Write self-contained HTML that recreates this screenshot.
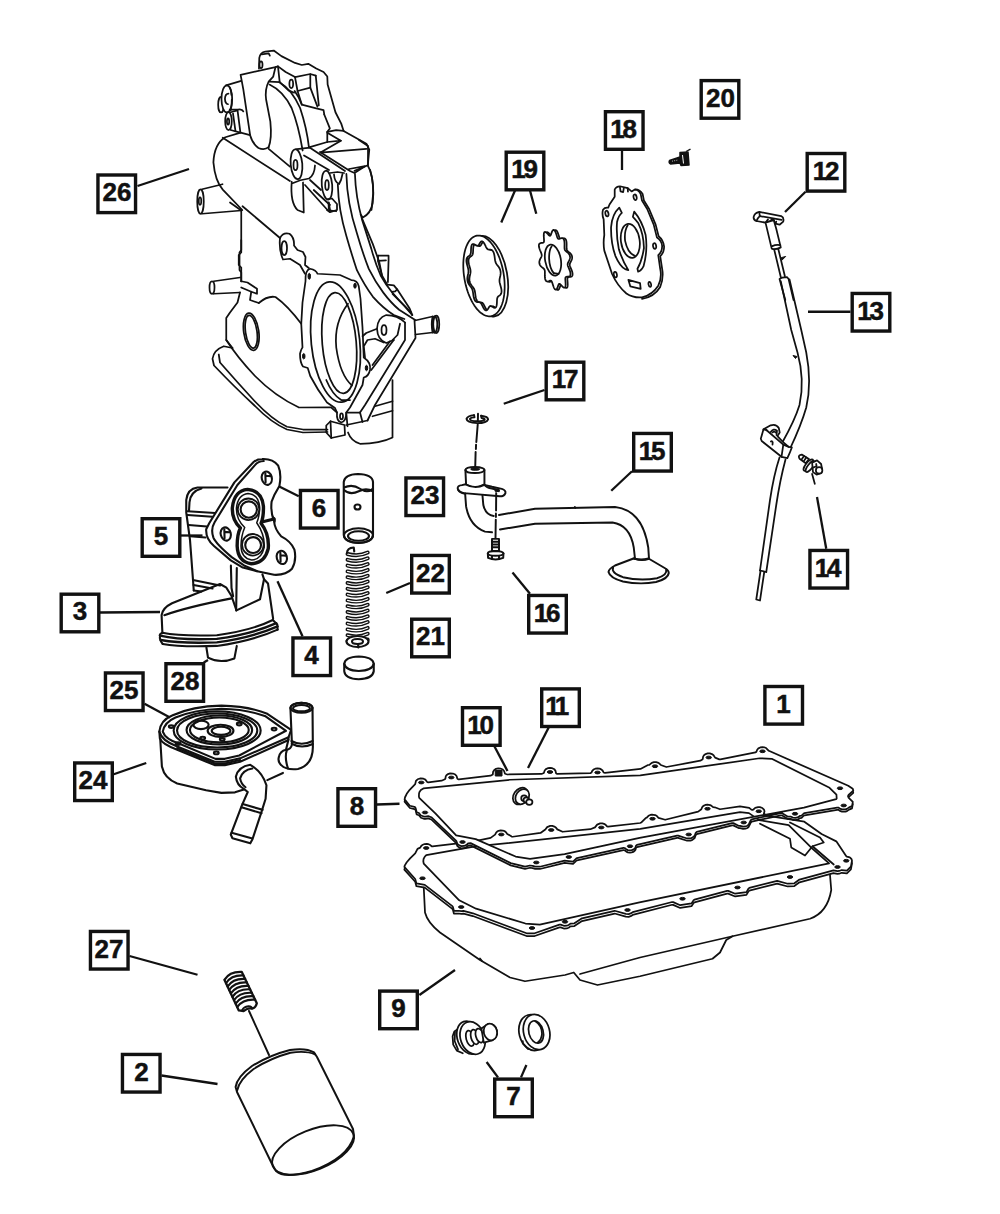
<!DOCTYPE html>
<html><head><meta charset="utf-8"><title>Engine Oiling Parts Diagram</title>
<style>
html,body{margin:0;padding:0;background:#fff;}
body{width:1000px;height:1214px;overflow:hidden;}
svg{display:block;}
.p{fill:none;stroke:#111;stroke-width:1.75;stroke-linecap:round;stroke-linejoin:round;vector-effect:non-scaling-stroke;}
.w{fill:#fff;stroke:#111;stroke-width:1.75;stroke-linecap:round;stroke-linejoin:round;vector-effect:non-scaling-stroke;}
#adapter-body .p,#adapter-flange .p,#adapter-flange .w,#adapter-dome .p,#cooler .p,#cooler .w,#valve .p,#valve .w{stroke-width:2.1;}
#pickup-left .p,#pickup-left .w,#pickup-tube .p,#strainer .p,#filter .p,#filter .w{stroke-width:1.95;}
.k{fill:#111;stroke:#111;stroke-width:1;vector-effect:non-scaling-stroke;}
.ld{fill:none;stroke:#111;stroke-width:2.3;stroke-linecap:butt;}
.bx{fill:#fff;stroke:#111;stroke-width:3.4;}
.t{font-family:"Liberation Sans",sans-serif;font-weight:bold;font-size:26px;fill:#111;stroke:#111;stroke-width:0.5;text-anchor:middle;}
</style></head><body>
<svg width="1000" height="1214" viewBox="0 0 1000 1214">
<rect x="0" y="0" width="1000" height="1214" fill="#fff"/>
<!-- 10_cover_upper.svg -->
<g id="cover-upper" transform="translate(210,40) scale(0.17)">
<!-- top lug + back edge -->
<path class="p" d="M288,168 L290,105 Q296,72 325,68 L375,62 L420,95 L500,135 L540,147 L578,140 L625,168 L668,188 L690,215 L692,262 L738,425 L772,492 L786,535 L920,610 L937,645 L928,738"/>
<ellipse class="p" cx="300" cy="145" rx="9" ry="20"/>
<path class="p" d="M304,84 L345,78 L352,92"/>
<!-- front plate -->
<path class="p" d="M400,155 L385,160 L180,205 L196,290 L236,560 Q250,610 285,635 Q320,650 345,630"/>
<path class="p" d="M385,160 L372,215 L345,245 Q322,290 330,350 L355,480 Q365,580 345,630"/>
<path class="p" d="M345,640 L470,745"/>
<path class="p" d="M400,157 L410,248 L350,245"/>
<path class="p" d="M350,262 Q430,300 480,400 Q520,500 545,650"/>
<path class="p" d="M410,250 Q480,290 530,400 Q570,520 582,632"/>
<!-- lug 2 -->
<path class="p" d="M400,155 L445,188 L500,218"/>
<ellipse class="p" cx="478" cy="258" rx="11" ry="25"/>
<path class="p" d="M498,300 L520,335 L540,380"/>
<path class="p" d="M410,248 L462,296 L495,310"/>
<!-- window -->
<path class="p" d="M500,218 L590,200 L622,210"/>
<path class="p" d="M500,218 L515,300 L590,280 L590,202"/>
<path class="p" d="M515,300 L540,380 L625,402 L668,412 L672,438"/>
<path class="p" d="M590,280 L632,392"/>
<path class="p" d="M622,210 L640,385"/>
<path class="p" d="M672,438 L705,520 L690,540 L690,600"/>
<path class="p" d="M690,540 L742,530 L786,535"/>
<path class="p" d="M690,545 L770,592 L690,600 L582,632"/>
<path class="p" d="M770,592 L650,662 L920,640"/>
<!-- big boss -->
<path class="p" d="M236,560 L180,545 L90,572 Q25,610 20,720 Q30,830 75,880 L190,1000"/>
<path class="p" d="M75,575 L470,830"/>
<!-- right bulge -->
<path class="p" d="M928,738 Q960,790 960,900 L950,1000"/>
<path class="p" d="M850,770 L925,738"/>
</g>

<g id="cover-bosses" transform="translate(205,75) scale(0.08237)">
<ellipse class="p" cx="195" cy="360" rx="35" ry="95"/>
<ellipse class="w" cx="265" cy="290" rx="65" ry="165"/>
<path class="p" d="M285,225 Q245,225 242,290 Q245,350 280,355"/>
<path class="p" d="M255,125 L440,72"/>
<path class="p" d="M300,420 L400,420 Q450,410 465,442"/>
<path class="p" d="M300,150 Q325,200 320,240"/>
<path class="p" d="M325,300 Q328,380 310,430"/>
<path class="w" d="M300,455 L395,430 L430,700 L310,668 Z"/>
<ellipse class="w" cx="285" cy="560" rx="40" ry="110"/>
<ellipse class="p" cx="280" cy="565" rx="14" ry="38"/>
<path class="p" d="M340,470 L370,680"/>
</g>

<g id="cover-lugs" transform="translate(280,140) scale(0.1)">
<path class="p" d="M170,92 L300,76"/>
<ellipse class="p" cx="165" cy="242" rx="58" ry="150" transform="rotate(-5 165 242)"/>
<ellipse class="p" cx="155" cy="250" rx="20" ry="52"/>
<path class="p" d="M300,78 L650,310"/>
<path class="p" d="M240,155 L490,300"/>
<path class="p" d="M350,255 Q345,350 290,385 Q200,395 125,432"/>
<path class="p" d="M400,120 L700,310 L745,330 L850,262 L690,290"/>
<path class="p" d="M300,400 L410,500"/>
<path class="p" d="M480,590 L520,585 L570,640 L570,700 L500,722 L470,700"/>
<path class="p" d="M485,625 L488,690"/>
<ellipse class="p" cx="470" cy="452" rx="52" ry="145" transform="rotate(-5 470 452)"/>
<ellipse class="p" cx="470" cy="450" rx="18" ry="50"/>
<path class="p" d="M500,330 L575,320 L640,330"/>
<path class="p" d="M540,345 Q545,420 590,440 L610,400 L625,340"/>
<path class="p" d="M790,0 L880,60 L880,250"/>
</g>

<!-- 11_cover_mid.svg -->
<g id="cover-mid" transform="translate(180,30) scale(0.25)">
<!-- left stub upper -->
<path class="p" d="M88,637 L170,617"/>
<path class="p" d="M88,735 L245,722"/>
<ellipse class="p" cx="82" cy="686" rx="13" ry="49"/>
<ellipse class="p" cx="80" cy="684" rx="5" ry="15"/>
<!-- big boss lower -->
<path class="p" d="M200,690 L245,722"/>
<!-- left edge -->
<path class="p" d="M245,722 L245,880 L238,890 L238,960 L245,970 L245,1005"/>
<!-- diagonal to lug C -->
<path class="p" d="M250,705 L400,832"/>
<!-- lug C -->
<ellipse class="p" cx="417" cy="872" rx="11" ry="28"/>
<path class="p" d="M400,832 Q412,808 438,815 Q458,830 456,862 L470,880 L492,888 L502,908 L500,940 L515,952"/>
<path class="p" d="M400,832 Q395,880 412,918 L440,915 L480,940 L500,975"/>
<!-- notch under lug A -->
<path class="p" d="M447,607 Q440,690 470,720 L495,730 L492,610"/>
<path class="p" d="M500,620 L590,720 L625,725"/>
<path class="p" d="M535,640 L600,700"/>
<path class="p" d="M595,690 L600,720"/>
</g>
<g id="cover-low" transform="translate(200,240) scale(0.25)">
<!-- second stub -->
<path class="p" d="M55,165 L160,150"/>
<path class="p" d="M55,215 L160,210"/>
<ellipse class="p" cx="48" cy="190" rx="10" ry="25"/>
<!-- left edge -->
<path class="p" d="M165,0 L165,50 L155,60 L155,100 L165,110 L165,165"/>
<path class="p" d="M165,165 L190,170 L228,195 L228,215 L205,207 L200,240 L235,252"/>
<path class="p" d="M205,207 L165,190"/>
<path class="p" d="M235,252 Q270,222 302,228 Q350,262 405,335"/>
<path class="p" d="M160,210 L150,250 L120,290 L105,312 L105,400 L130,432"/>
<!-- oval hole -->
<ellipse class="p" cx="205" cy="367" rx="30" ry="75" transform="rotate(-8 205 367)"/>
<ellipse class="p" cx="205" cy="367" rx="23" ry="66" transform="rotate(-8 205 367)"/>
<!-- skirt -->
<path class="p" d="M130,432 L95,425 Q55,440 50,475 L56,502 Q140,590 220,664 Q284,730 348,758 L412,770 L510,768"/>
<path class="p" d="M75,458 L80,490 Q150,570 220,646 Q290,720 348,747 L412,758 L510,758"/>
<path class="p" d="M105,400 Q150,470 220,544 Q300,625 396,670 L524,669 L548,690"/>
<!-- pump ring outer -->
<path class="p" d="M405,335 L410,250 L422,165 Q420,120 440,115 Q465,120 470,135 L560,140 L605,160 Q630,160 635,185 L642,235 L650,350 L655,470 Q685,490 680,520 Q675,545 655,550 L650,580 L600,670 L585,690 Q585,725 565,730 Q545,725 548,690 L540,672 L508,650 Q470,600 441,544 L431,512 L412,506 Q400,490 400,455 Q405,435 410,430 Z"/>
<ellipse class="k" cx="437" cy="145" rx="5" ry="12"/>
<ellipse class="k" cx="620" cy="183" rx="5" ry="10"/>
<ellipse class="k" cx="415" cy="465" rx="5" ry="11"/>
<ellipse class="k" cx="666" cy="512" rx="5" ry="11"/>
<ellipse class="p" cx="566" cy="705" rx="6" ry="12"/>
<ellipse class="p" cx="542" cy="408" rx="97" ry="242" transform="rotate(-6 542 408)"/>
<ellipse class="p" cx="557" cy="412" rx="68" ry="202" transform="rotate(-5 557 412)"/>
<path class="p" d="M592,255 Q535,330 545,430 Q560,540 608,582"/>
<path class="p" d="M505,560 Q530,620 565,640 L600,640"/>
<!-- strap lower and right lug -->
<path class="p" d="M858,322 L862,392 L700,660 L670,722"/>
<path class="p" d="M820,330 L820,400 L660,660 L640,690"/>
<path class="p" d="M640,690 L590,690"/>
<path class="p" d="M670,722 L585,740"/>
<path class="p" d="M585,690 L590,745"/>
<path class="p" d="M640,690 L650,728"/>
<ellipse class="p" cx="736" cy="360" rx="10" ry="20"/>
<path class="p" d="M820,330 Q790,300 745,300 Q710,310 708,355 Q710,400 745,412 L775,400"/>
<path class="p" d="M708,355 L665,372 L650,385"/>
<path class="p" d="M735,410 L700,395 L670,400 L655,425 L660,470"/>
<path class="p" d="M775,400 L700,500 L685,520"/>
<path class="p" d="M760,405 L690,500"/>
<path class="p" d="M800,335 L790,380 L770,400"/>
<!-- right stub -->
<path class="p" d="M860,322 L930,306"/>
<path class="p" d="M862,378 L930,370"/>
<ellipse class="p" cx="945" cy="337" rx="12" ry="35"/>
<ellipse class="p" cx="938" cy="338" rx="11" ry="33"/>
<path class="p" d="M930,306 L930,370"/>
<!-- bottom cylinder -->
<path class="p" d="M770,560 L770,790 Q720,815 640,815 Q605,805 592,770"/>
<path class="p" d="M700,665 L770,645"/>
<path class="p" d="M690,705 L770,683"/>
<!-- small block -->
<path class="p" d="M505,742 L522,725 L578,740 L580,780 L525,792 L505,770 Z"/>
<path class="p" d="M522,725 L525,792"/>
</g>

<g id="cover-strap" transform="translate(320,170) scale(0.13187)">
<path class="p" d="M135,110 Q140,300 200,500 Q240,640 280,760 Q340,880 400,960 Q480,1050 560,1100 L640,1130"/>
<path class="p" d="M200,30 Q205,250 280,480 Q320,620 370,750 Q420,850 480,930 Q540,1010 600,1060 L722,1138"/>
<path class="p" d="M265,30 Q270,200 320,380 L390,600 Q420,710 460,800 Q500,870 540,920 Q590,980 640,1030 L700,1100"/>
<path class="p" d="M320,370 L400,560 L450,700 L470,800 L510,870"/>
<path class="p" d="M380,0 Q415,120 400,250 Q385,330 325,360 L308,338"/>
<path class="p" d="M440,650 L520,650 L520,682 L515,850"/>
<path class="p" d="M440,650 L440,690 L470,800"/>
<path class="p" d="M440,690 L500,685"/>
<path class="p" d="M510,870 L560,875 L585,905 L570,920 L545,925"/>
<path class="p" d="M585,905 L680,1050 L700,1100"/>
<path class="p" d="M550,940 L690,1080"/>
</g>

<!-- 20_gears.svg -->
<g id="gears" transform="translate(455,215) scale(0.14)">
<ellipse class="p" cx="232" cy="437" rx="141" ry="292" transform="rotate(-10 232 437)"/>
<path class="p" d="M341.0,416.0 L340.7,422.6 L339.9,429.2 L338.8,435.5 L337.5,441.6 L336.2,447.5 L334.9,453.2 L333.8,458.7 L333.1,464.2 L332.8,469.7 L332.9,475.3 L333.6,481.0 L334.7,487.0 L336.3,493.4 L338.1,500.0 L340.1,506.9 L342.1,514.0 L344.0,521.3 L345.6,528.6 L346.7,535.7 L347.4,542.6 L347.4,549.0 L346.8,554.9 L345.6,560.2 L343.8,564.8 L341.4,568.8 L338.7,572.1 L335.6,575.0 L332.5,577.4 L329.3,579.6 L326.3,581.7 L323.5,584.1 L321.1,586.7 L319.1,589.9 L317.5,593.8 L316.4,598.3 L315.6,603.6 L315.1,609.5 L314.8,616.0 L314.6,622.8 L314.3,629.8 L313.8,636.8 L313.1,643.4 L312.0,649.4 L310.5,654.6 L308.6,658.9 L306.1,662.0 L303.3,664.0 L300.1,664.8 L296.6,664.6 L292.9,663.5 L289.0,661.7 L285.2,659.5 L281.5,657.2 L277.9,655.0 L274.5,653.2 L271.3,652.1 L268.3,651.8 L265.6,652.4 L263.1,654.0 L260.7,656.5 L258.4,659.7 L256.1,663.6 L253.7,667.7 L251.2,672.0 L248.6,675.9 L245.9,679.4 L242.9,682.0 L239.8,683.6 L236.6,684.0 L233.3,683.2 L229.9,681.1 L226.6,677.8 L223.2,673.5 L220.0,668.4 L216.8,662.7 L213.8,656.7 L210.9,650.7 L208.1,645.0 L205.4,639.8 L202.6,635.3 L199.9,631.6 L197.1,628.8 L194.1,626.8 L191.0,625.5 L187.7,624.9 L184.3,624.6 L180.7,624.5 L177.0,624.4 L173.3,623.9 L169.5,622.8 L165.9,621.0 L162.4,618.4 L159.1,614.8 L156.1,610.3 L153.5,604.9 L151.3,598.8 L149.4,592.0 L147.9,584.8 L146.6,577.4 L145.5,569.9 L144.6,562.6 L143.7,555.5 L142.6,548.9 L141.4,542.7 L139.9,537.1 L138.0,531.9 L135.8,527.1 L133.2,522.6 L130.2,518.3 L127.0,514.0 L123.5,509.7 L120.0,505.2 L116.5,500.4 L113.2,495.2 L110.2,489.7 L107.6,483.9 L105.6,477.7 L104.1,471.2 L103.3,464.6 L103.0,458.0 L103.3,451.4 L104.1,444.8 L105.2,438.5 L106.5,432.4 L107.8,426.5 L109.1,420.8 L110.2,415.3 L110.9,409.8 L111.2,404.3 L111.1,398.7 L110.4,393.0 L109.3,387.0 L107.7,380.6 L105.9,374.0 L103.9,367.1 L101.9,360.0 L100.0,352.7 L98.4,345.4 L97.3,338.3 L96.6,331.4 L96.6,325.0 L97.2,319.1 L98.4,313.8 L100.2,309.2 L102.6,305.2 L105.3,301.9 L108.4,299.0 L111.5,296.6 L114.7,294.4 L117.7,292.3 L120.5,289.9 L122.9,287.3 L124.9,284.1 L126.5,280.2 L127.6,275.7 L128.4,270.4 L128.9,264.5 L129.2,258.0 L129.4,251.2 L129.7,244.2 L130.2,237.2 L130.9,230.6 L132.0,224.6 L133.5,219.4 L135.4,215.1 L137.9,212.0 L140.7,210.0 L143.9,209.2 L147.4,209.4 L151.1,210.5 L155.0,212.3 L158.8,214.5 L162.5,216.8 L166.1,219.0 L169.5,220.8 L172.7,221.9 L175.7,222.2 L178.4,221.6 L180.9,220.0 L183.3,217.5 L185.6,214.3 L187.9,210.4 L190.3,206.3 L192.8,202.0 L195.4,198.1 L198.1,194.6 L201.1,192.0 L204.2,190.4 L207.4,190.0 L210.7,190.8 L214.1,192.9 L217.4,196.2 L220.8,200.5 L224.0,205.6 L227.2,211.3 L230.2,217.3 L233.1,223.3 L235.9,229.0 L238.6,234.2 L241.4,238.7 L244.1,242.4 L246.9,245.2 L249.9,247.2 L253.0,248.5 L256.3,249.1 L259.7,249.4 L263.3,249.5 L267.0,249.6 L270.7,250.1 L274.5,251.2 L278.1,253.0 L281.6,255.6 L284.9,259.2 L287.9,263.7 L290.5,269.1 L292.7,275.2 L294.6,282.0 L296.1,289.2 L297.4,296.6 L298.5,304.1 L299.4,311.4 L300.3,318.5 L301.4,325.1 L302.6,331.3 L304.1,336.9 L306.0,342.1 L308.2,346.9 L310.8,351.4 L313.8,355.7 L317.0,360.0 L320.5,364.3 L324.0,368.8 L327.5,373.6 L330.8,378.8 L333.8,384.3 L336.4,390.1 L338.4,396.3 L339.9,402.8 L340.7,409.4 Z"/>
<path class="w" fill-rule="evenodd" d="M345.9,410.5 L348.3,425.6 L350.4,440.7 L352.1,455.8 L353.4,470.8 L354.2,485.8 L354.7,500.6 L354.8,515.2 L354.5,529.6 L353.7,543.7 L352.6,557.6 L351.1,571.1 L349.1,584.2 L346.8,596.9 L344.1,609.2 L341.0,621.0 L337.6,632.3 L333.8,643.1 L329.6,653.3 L325.2,662.8 L320.3,671.8 L315.2,680.1 L309.8,687.7 L304.1,694.7 L298.1,700.9 L291.9,706.4 L285.5,711.2 L278.8,715.2 L271.9,718.4 L264.9,720.9 L257.7,722.6 L250.4,723.5 L242.9,723.5 L235.4,722.9 L227.7,721.4 L220.0,719.1 L212.3,716.1 L204.6,712.2 L196.8,707.7 L189.1,702.3 L181.5,696.3 L173.9,689.5 L166.4,682.0 L159.0,673.9 L151.8,665.1 L144.7,655.7 L137.7,645.6 L131.0,635.0 L124.5,623.8 L118.2,612.2 L112.1,600.0 L106.3,587.4 L100.8,574.3 L95.5,560.9 L90.6,547.1 L86.0,533.1 L81.7,518.7 L77.8,504.2 L74.2,489.4 L71.0,474.5 L68.1,459.5 L65.7,444.4 L63.6,429.3 L61.9,414.2 L60.6,399.2 L59.8,384.2 L59.3,369.4 L59.2,354.8 L59.5,340.4 L60.3,326.3 L61.4,312.4 L62.9,298.9 L64.9,285.8 L67.2,273.1 L69.9,260.8 L73.0,249.0 L76.4,237.7 L80.2,226.9 L84.4,216.7 L88.8,207.2 L93.7,198.2 L98.8,189.9 L104.2,182.3 L109.9,175.3 L115.9,169.1 L122.1,163.6 L128.5,158.8 L135.2,154.8 L142.1,151.6 L149.1,149.1 L156.3,147.4 L163.6,146.5 L171.1,146.5 L178.6,147.1 L186.3,148.6 L194.0,150.9 L201.7,153.9 L209.4,157.8 L217.2,162.3 L224.9,167.7 L232.5,173.7 L240.1,180.5 L247.6,188.0 L255.0,196.1 L262.2,204.9 L269.3,214.3 L276.3,224.4 L283.0,235.0 L289.5,246.2 L295.8,257.8 L301.9,270.0 L307.7,282.6 L313.2,295.7 L318.5,309.1 L323.4,322.9 L328.0,336.9 L332.3,351.3 L336.2,365.8 L339.8,380.6 L343.0,395.5 Z M326.0,414.0 L325.7,420.6 L324.9,427.2 L323.8,433.5 L322.5,439.6 L321.2,445.5 L319.9,451.2 L318.8,456.7 L318.1,462.2 L317.8,467.7 L317.9,473.3 L318.6,479.0 L319.7,485.0 L321.3,491.4 L323.1,498.0 L325.1,504.9 L327.1,512.0 L329.0,519.3 L330.6,526.6 L331.7,533.7 L332.4,540.6 L332.4,547.0 L331.8,552.9 L330.6,558.2 L328.8,562.8 L326.4,566.8 L323.7,570.1 L320.6,573.0 L317.5,575.4 L314.3,577.6 L311.3,579.7 L308.5,582.1 L306.1,584.7 L304.1,587.9 L302.5,591.8 L301.4,596.3 L300.6,601.6 L300.1,607.5 L299.8,614.0 L299.6,620.8 L299.3,627.8 L298.8,634.8 L298.1,641.4 L297.0,647.4 L295.5,652.6 L293.6,656.9 L291.1,660.0 L288.3,662.0 L285.1,662.8 L281.6,662.6 L277.9,661.5 L274.0,659.7 L270.2,657.5 L266.5,655.2 L262.9,653.0 L259.5,651.2 L256.3,650.1 L253.3,649.8 L250.6,650.4 L248.1,652.0 L245.7,654.5 L243.4,657.7 L241.1,661.6 L238.7,665.7 L236.2,670.0 L233.6,673.9 L230.9,677.4 L227.9,680.0 L224.8,681.6 L221.6,682.0 L218.3,681.2 L214.9,679.1 L211.6,675.8 L208.2,671.5 L205.0,666.4 L201.8,660.7 L198.8,654.7 L195.9,648.7 L193.1,643.0 L190.4,637.8 L187.6,633.3 L184.9,629.6 L182.1,626.8 L179.1,624.8 L176.0,623.5 L172.7,622.9 L169.3,622.6 L165.7,622.5 L162.0,622.4 L158.3,621.9 L154.5,620.8 L150.9,619.0 L147.4,616.4 L144.1,612.8 L141.1,608.3 L138.5,602.9 L136.3,596.8 L134.4,590.0 L132.9,582.8 L131.6,575.4 L130.5,567.9 L129.6,560.6 L128.7,553.5 L127.6,546.9 L126.4,540.7 L124.9,535.1 L123.0,529.9 L120.8,525.1 L118.2,520.6 L115.2,516.3 L112.0,512.0 L108.5,507.7 L105.0,503.2 L101.5,498.4 L98.2,493.2 L95.2,487.7 L92.6,481.9 L90.6,475.7 L89.1,469.2 L88.3,462.6 L88.0,456.0 L88.3,449.4 L89.1,442.8 L90.2,436.5 L91.5,430.4 L92.8,424.5 L94.1,418.8 L95.2,413.3 L95.9,407.8 L96.2,402.3 L96.1,396.7 L95.4,391.0 L94.3,385.0 L92.7,378.6 L90.9,372.0 L88.9,365.1 L86.9,358.0 L85.0,350.7 L83.4,343.4 L82.3,336.3 L81.6,329.4 L81.6,323.0 L82.2,317.1 L83.4,311.8 L85.2,307.2 L87.6,303.2 L90.3,299.9 L93.4,297.0 L96.5,294.6 L99.7,292.4 L102.7,290.3 L105.5,287.9 L107.9,285.3 L109.9,282.1 L111.5,278.2 L112.6,273.7 L113.4,268.4 L113.9,262.5 L114.2,256.0 L114.4,249.2 L114.7,242.2 L115.2,235.2 L115.9,228.6 L117.0,222.6 L118.5,217.4 L120.4,213.1 L122.9,210.0 L125.7,208.0 L128.9,207.2 L132.4,207.4 L136.1,208.5 L140.0,210.3 L143.8,212.5 L147.5,214.8 L151.1,217.0 L154.5,218.8 L157.7,219.9 L160.7,220.2 L163.4,219.6 L165.9,218.0 L168.3,215.5 L170.6,212.3 L172.9,208.4 L175.3,204.3 L177.8,200.0 L180.4,196.1 L183.1,192.6 L186.1,190.0 L189.2,188.4 L192.4,188.0 L195.7,188.8 L199.1,190.9 L202.4,194.2 L205.8,198.5 L209.0,203.6 L212.2,209.3 L215.2,215.3 L218.1,221.3 L220.9,227.0 L223.6,232.2 L226.4,236.7 L229.1,240.4 L231.9,243.2 L234.9,245.2 L238.0,246.5 L241.3,247.1 L244.7,247.4 L248.3,247.5 L252.0,247.6 L255.7,248.1 L259.5,249.2 L263.1,251.0 L266.6,253.6 L269.9,257.2 L272.9,261.7 L275.5,267.1 L277.7,273.2 L279.6,280.0 L281.1,287.2 L282.4,294.6 L283.5,302.1 L284.4,309.4 L285.3,316.5 L286.4,323.1 L287.6,329.3 L289.1,334.9 L291.0,340.1 L293.2,344.9 L295.8,349.4 L298.8,353.7 L302.0,358.0 L305.5,362.3 L309.0,366.8 L312.5,371.6 L315.8,376.8 L318.8,382.3 L321.4,388.1 L323.4,394.3 L324.9,400.8 L325.7,407.4 Z"/>
<path class="w" d="M836.8,302.6 L836.5,308.4 L835.4,314.2 L833.7,319.7 L831.6,325.0 L829.1,330.0 L826.5,334.7 L824.2,339.1 L822.1,343.3 L820.6,347.5 L819.7,351.7 L819.5,356.0 L820.2,360.6 L821.5,365.7 L823.4,371.1 L825.9,377.1 L828.6,383.4 L831.5,390.1 L834.2,397.1 L836.6,404.1 L838.5,410.9 L839.6,417.4 L840.0,423.3 L839.5,428.6 L838.1,433.0 L836.0,436.5 L833.1,439.1 L829.7,440.9 L825.9,441.9 L821.9,442.5 L818.0,442.7 L814.2,442.9 L810.9,443.4 L808.1,444.5 L805.9,446.2 L804.3,448.9 L803.4,452.7 L803.0,457.5 L803.1,463.4 L803.5,470.0 L804.1,477.4 L804.6,485.0 L805.0,492.7 L805.0,500.0 L804.5,506.7 L803.6,512.3 L802.0,516.6 L799.8,519.6 L797.1,521.0 L793.8,520.9 L790.3,519.3 L786.4,516.6 L782.4,513.0 L778.5,508.9 L774.6,504.6 L771.0,500.6 L767.6,497.1 L764.6,494.6 L762.0,493.3 L759.6,493.4 L757.5,494.8 L755.6,497.6 L753.7,501.6 L752.0,506.5 L750.1,512.0 L748.1,517.6 L746.0,523.1 L743.6,528.0 L741.0,531.9 L738.2,534.5 L735.3,535.6 L732.3,535.1 L729.2,532.9 L726.2,529.2 L723.2,524.2 L720.4,518.0 L717.8,511.2 L715.4,504.0 L713.1,496.8 L710.9,490.0 L708.9,484.0 L706.8,478.9 L704.7,475.0 L702.4,472.4 L699.9,471.0 L697.2,470.6 L694.1,471.2 L690.8,472.4 L687.3,474.0 L683.6,475.5 L679.7,476.7 L675.9,477.3 L672.1,476.9 L668.6,475.5 L665.5,473.0 L662.7,469.2 L660.5,464.3 L658.8,458.5 L657.7,451.8 L657.0,444.6 L656.7,437.0 L656.7,429.5 L656.9,422.2 L657.0,415.2 L657.0,408.9 L656.7,403.2 L655.9,398.2 L654.6,393.9 L652.7,390.2 L650.2,386.9 L647.1,383.9 L643.5,380.9 L639.7,378.0 L635.6,374.8 L631.5,371.2 L627.7,367.2 L624.2,362.8 L621.3,357.9 L619.1,352.7 L617.8,347.1 L617.2,341.4 L617.5,335.6 L618.6,329.8 L620.3,324.3 L622.4,319.0 L624.9,314.0 L627.5,309.3 L629.8,304.9 L631.9,300.7 L633.4,296.5 L634.3,292.3 L634.5,288.0 L633.8,283.4 L632.5,278.3 L630.6,272.9 L628.1,266.9 L625.4,260.6 L622.5,253.9 L619.8,246.9 L617.4,239.9 L615.5,233.1 L614.4,226.6 L614.0,220.7 L614.5,215.4 L615.9,211.0 L618.0,207.5 L620.9,204.9 L624.3,203.1 L628.1,202.1 L632.1,201.5 L636.0,201.3 L639.8,201.1 L643.1,200.6 L645.9,199.5 L648.1,197.8 L649.7,195.1 L650.6,191.3 L651.0,186.5 L650.9,180.6 L650.5,174.0 L649.9,166.6 L649.4,159.0 L649.0,151.3 L649.0,144.0 L649.5,137.3 L650.4,131.7 L652.0,127.4 L654.2,124.4 L656.9,123.0 L660.2,123.1 L663.7,124.7 L667.6,127.4 L671.6,131.0 L675.5,135.1 L679.4,139.4 L683.0,143.4 L686.4,146.9 L689.4,149.4 L692.0,150.7 L694.4,150.6 L696.5,149.2 L698.4,146.4 L700.3,142.4 L702.0,137.5 L703.9,132.0 L705.9,126.4 L708.0,120.9 L710.4,116.0 L713.0,112.1 L715.8,109.5 L718.7,108.4 L721.7,108.9 L724.8,111.1 L727.8,114.8 L730.8,119.8 L733.6,126.0 L736.2,132.8 L738.6,140.0 L740.9,147.2 L743.1,154.0 L745.1,160.0 L747.2,165.1 L749.3,169.0 L751.6,171.6 L754.1,173.0 L756.8,173.4 L759.9,172.8 L763.2,171.6 L766.7,170.0 L770.4,168.5 L774.3,167.3 L778.1,166.7 L781.9,167.1 L785.4,168.5 L788.5,171.0 L791.3,174.8 L793.5,179.7 L795.2,185.5 L796.3,192.2 L797.0,199.4 L797.3,207.0 L797.3,214.5 L797.1,221.8 L797.0,228.8 L797.0,235.1 L797.3,240.8 L798.1,245.8 L799.4,250.1 L801.3,253.8 L803.8,257.1 L806.9,260.1 L810.5,263.1 L814.3,266.0 L818.4,269.2 L822.5,272.8 L826.3,276.8 L829.8,281.2 L832.7,286.1 L834.9,291.3 L836.2,296.9 Z"/>
<path class="w" d="M821.8,300.6 L821.5,306.4 L820.4,312.2 L818.7,317.7 L816.6,323.0 L814.1,328.0 L811.5,332.7 L809.2,337.1 L807.1,341.3 L805.6,345.5 L804.7,349.7 L804.5,354.0 L805.2,358.6 L806.5,363.7 L808.4,369.1 L810.9,375.1 L813.6,381.4 L816.5,388.1 L819.2,395.1 L821.6,402.1 L823.5,408.9 L824.6,415.4 L825.0,421.3 L824.5,426.6 L823.1,431.0 L821.0,434.5 L818.1,437.1 L814.7,438.9 L810.9,439.9 L806.9,440.5 L803.0,440.7 L799.2,440.9 L795.9,441.4 L793.1,442.5 L790.9,444.2 L789.3,446.9 L788.4,450.7 L788.0,455.5 L788.1,461.4 L788.5,468.0 L789.1,475.4 L789.6,483.0 L790.0,490.7 L790.0,498.0 L789.5,504.7 L788.6,510.3 L787.0,514.6 L784.8,517.6 L782.1,519.0 L778.8,518.9 L775.3,517.3 L771.4,514.6 L767.4,511.0 L763.5,506.9 L759.6,502.6 L756.0,498.6 L752.6,495.1 L749.6,492.6 L747.0,491.3 L744.6,491.4 L742.5,492.8 L740.6,495.6 L738.7,499.6 L737.0,504.5 L735.1,510.0 L733.1,515.6 L731.0,521.1 L728.6,526.0 L726.0,529.9 L723.2,532.5 L720.3,533.6 L717.3,533.1 L714.2,530.9 L711.2,527.2 L708.2,522.2 L705.4,516.0 L702.8,509.2 L700.4,502.0 L698.1,494.8 L695.9,488.0 L693.9,482.0 L691.8,476.9 L689.7,473.0 L687.4,470.4 L684.9,469.0 L682.2,468.6 L679.1,469.2 L675.8,470.4 L672.3,472.0 L668.6,473.5 L664.7,474.7 L660.9,475.3 L657.1,474.9 L653.6,473.5 L650.5,471.0 L647.7,467.2 L645.5,462.3 L643.8,456.5 L642.7,449.8 L642.0,442.6 L641.7,435.0 L641.7,427.5 L641.9,420.2 L642.0,413.2 L642.0,406.9 L641.7,401.2 L640.9,396.2 L639.6,391.9 L637.7,388.2 L635.2,384.9 L632.1,381.9 L628.5,378.9 L624.7,376.0 L620.6,372.8 L616.5,369.2 L612.7,365.2 L609.2,360.8 L606.3,355.9 L604.1,350.7 L602.8,345.1 L602.2,339.4 L602.5,333.6 L603.6,327.8 L605.3,322.3 L607.4,317.0 L609.9,312.0 L612.5,307.3 L614.8,302.9 L616.9,298.7 L618.4,294.5 L619.3,290.3 L619.5,286.0 L618.8,281.4 L617.5,276.3 L615.6,270.9 L613.1,264.9 L610.4,258.6 L607.5,251.9 L604.8,244.9 L602.4,237.9 L600.5,231.1 L599.4,224.6 L599.0,218.7 L599.5,213.4 L600.9,209.0 L603.0,205.5 L605.9,202.9 L609.3,201.1 L613.1,200.1 L617.1,199.5 L621.0,199.3 L624.8,199.1 L628.1,198.6 L630.9,197.5 L633.1,195.8 L634.7,193.1 L635.6,189.3 L636.0,184.5 L635.9,178.6 L635.5,172.0 L634.9,164.6 L634.4,157.0 L634.0,149.3 L634.0,142.0 L634.5,135.3 L635.4,129.7 L637.0,125.4 L639.2,122.4 L641.9,121.0 L645.2,121.1 L648.7,122.7 L652.6,125.4 L656.6,129.0 L660.5,133.1 L664.4,137.4 L668.0,141.4 L671.4,144.9 L674.4,147.4 L677.0,148.7 L679.4,148.6 L681.5,147.2 L683.4,144.4 L685.3,140.4 L687.0,135.5 L688.9,130.0 L690.9,124.4 L693.0,118.9 L695.4,114.0 L698.0,110.1 L700.8,107.5 L703.7,106.4 L706.7,106.9 L709.8,109.1 L712.8,112.8 L715.8,117.8 L718.6,124.0 L721.2,130.8 L723.6,138.0 L725.9,145.2 L728.1,152.0 L730.1,158.0 L732.2,163.1 L734.3,167.0 L736.6,169.6 L739.1,171.0 L741.8,171.4 L744.9,170.8 L748.2,169.6 L751.7,168.0 L755.4,166.5 L759.3,165.3 L763.1,164.7 L766.9,165.1 L770.4,166.5 L773.5,169.0 L776.3,172.8 L778.5,177.7 L780.2,183.5 L781.3,190.2 L782.0,197.4 L782.3,205.0 L782.3,212.5 L782.1,219.8 L782.0,226.8 L782.0,233.1 L782.3,238.8 L783.1,243.8 L784.4,248.1 L786.3,251.8 L788.8,255.1 L791.9,258.1 L795.5,261.1 L799.3,264.0 L803.4,267.2 L807.5,270.8 L811.3,274.8 L814.8,279.2 L817.7,284.1 L819.9,289.3 L821.2,294.9 Z"/>
<ellipse class="p" cx="700" cy="322" rx="56" ry="112" transform="rotate(-10 700 322)"/>
<path class="p" d="M705,415 Q675,380 672,310 Q672,250 690,225"/>
<path class="p" d="M705,415 L740,420"/>
</g>
<g id="pumpcover" transform="translate(590,170) scale(0.13)">
<path class="p" d="M345,150 Q380,148 405,185 L415,235 L455,300 L505,420 L528,510 Q565,540 570,590 Q570,635 540,662 L555,760 Q568,830 540,900 Q495,975 400,992"/>
<path class="w" d="M190,150 Q200,125 230,125 L290,140 L320,165 L345,150 Q375,150 390,185 L400,235 L440,300 L490,420 L515,520 Q550,540 555,585 Q555,630 525,655 L540,760 Q555,830 525,890 Q480,960 400,980 Q330,985 280,950 Q210,890 170,800 L110,620 Q100,560 110,500 L105,380 Q90,340 100,305 Q115,285 140,290 L150,265 L190,205 Z"/>
<ellipse class="p" cx="347" cy="210" rx="12" ry="22" transform="rotate(-12 347 210)"/>
<ellipse class="p" cx="130" cy="335" rx="12" ry="22" transform="rotate(-12 130 335)"/>
<ellipse class="p" cx="497" cy="585" rx="12" ry="22" transform="rotate(-12 497 585)"/>
<ellipse class="p" cx="195" cy="805" rx="12" ry="22" transform="rotate(-12 195 805)"/>
<ellipse class="p" cx="460" cy="880" rx="10" ry="20" transform="rotate(-12 460 880)"/>
<path class="p" d="M230,130 L235,165 L255,170 L260,140"/>
<path class="p" d="M290,140 L292,166"/>
<path class="p" d="M225,290 Q170,340 162,440 Q160,560 195,660 Q230,740 270,762 L295,770 Q250,700 222,610 Q200,500 208,400 Q220,350 245,330 Z"/>
<path class="p" d="M340,320 Q400,390 428,500 Q445,620 412,740 Q395,775 370,782 L365,760 Q400,700 415,600 Q412,490 372,410 Q350,380 330,360 Z"/>
<ellipse class="p" cx="310" cy="545" rx="72" ry="132" transform="rotate(-8 310 545)"/>
<path class="p" d="M345,660 Q290,640 270,545 Q262,470 290,425"/>
<path class="p" d="M295,845 L385,870 L390,915 L310,895 Z"/>
</g>
<g id="bolt20">
<path d="M669.5,160.5 L680,157 L680,152.5 L688,152 L689,165 L681,165.5 L680,163 L670.5,164 Q668.5,162.5 669.5,160.5 Z" fill="#111" stroke="#111" stroke-width="1.5" stroke-linejoin="round"/>
<path d="M682.5,155 L683.5,163.5" stroke="#fff" stroke-width="1" fill="none"/>
<path d="M686,151.5 L690.5,149.2" stroke="#111" stroke-width="1.4" fill="none"/>
<path d="M672,161.2 L678,160" stroke="#ddd" stroke-width="0.8" stroke-dasharray="1 1.2" fill="none"/>
</g>
<!-- 30_dipstick.svg -->
<g id="dipstick-handle" transform="translate(740,200) scale(0.08237)">
<path class="w" d="M235,145 L500,195 Q538,215 525,262 L480,300 L430,288 L410,245 L310,275 L200,255 Q160,240 166,205 Q175,160 235,145 Z"/>
<path class="p" d="M240,195 L505,242"/>
<path class="p" d="M240,195 Q215,215 200,255"/>
<path class="p" d="M240,195 L235,148"/>
<path class="p" d="M340,235 L310,275"/>
<path class="p" d="M380,235 L410,245"/>
<path class="p" d="M440,262 L430,288"/>
<path class="w" d="M310,275 L385,590 Q430,610 495,575 L440,350 L410,245 Z"/>
<path class="p" d="M392,560 Q440,535 490,548"/>
<path class="p" d="M415,600 L495,935"/>
<path class="p" d="M465,595 L545,925"/>
<path class="k" d="M500,700 L555,685 L510,730 Z"/>
<path class="p" d="M550,1214 L480,960 Q500,935 570,935 L590,960 L650,1214"/>
</g>
<g id="dipstick-tube" transform="translate(680,60) scale(0.25)">
<!-- upper tube continues -->
<path class="p" d="M403,885 L445,1080 L470,1170 Q500,1280 478,1380 Q460,1440 408,1532"/>
<path class="p" d="M438,878 L485,1080 L505,1170 Q528,1290 505,1390 Q485,1460 440,1555"/>
<path class="k" d="M452,1182 L468,1186 L462,1194 Z"/>
<!-- lower tube -->
<path class="p" d="M398,1590 Q375,1660 360,1760 L320,2042"/>
<path class="p" d="M422,1598 Q400,1680 385,1780 L345,2048"/>
<path class="p" d="M320,2042 L345,2048"/>
<path class="p" d="M322,2044 L305,2158 L320,2162 L337,2048"/>
</g>
<g id="dipstick-bracket" transform="translate(750,410) scale(0.09)">
<path class="w" d="M150,215 L230,170 Q290,150 320,200 L330,250 L305,290 L365,355 L430,410 L465,415 L440,480 L415,535 L350,520 L130,345 L120,320 Z"/>
<path class="p" d="M150,215 L185,225 L370,385 L430,410"/>
<path class="p" d="M185,225 L180,218"/>
<path class="p" d="M230,245 Q260,200 300,230 L295,280"/>
<path class="p" d="M250,250 Q270,230 285,250"/>
<path class="p" d="M232,350 Q245,340 252,360 L250,385"/>
<path class="p" d="M370,385 L350,520"/>
</g>
<g id="bolt14" transform="translate(750,410) scale(0.09)">
<path class="w" d="M575,495 Q535,500 545,530 Q550,545 565,552 L620,592 L655,545 Z"/>
<path class="p" d="M575,548 L600,512"/>
<path class="p" d="M598,568 L625,528"/>
<ellipse class="w" cx="648" cy="612" rx="28" ry="78" transform="rotate(38 648 612)"/>
<ellipse class="w" cx="668" cy="628" rx="26" ry="74" transform="rotate(38 668 628)"/>
<path class="w" d="M690,585 L745,560 L790,600 L800,650 L790,700 L740,718 L700,690 Z"/>
<circle class="w" cx="768" cy="672" r="36"/>
<path class="p" d="M700,640 L740,625 L735,600"/>
<path class="p" d="M690,710 L720,820"/>
</g>

<!-- 40_pickup.svg -->
<g id="pickup-left" transform="translate(450,400) scale(0.14)">
<!-- snap ring -->
<path class="p" d="M222,112 Q272,118 272,138 Q262,165 195,165 Q120,162 118,135 Q125,112 172,108"/>
<path class="p" d="M222,112 L225,128 Q250,132 248,140 Q238,152 195,152 Q142,150 142,135 Q148,124 175,124 L172,108"/>
<!-- dash-dot -->
<path class="p" d="M200,98 L199,150 M198,175 L188,300 M186,320 L185,350 M183,372 L180,485"/>
<!-- cylinder -->
<path class="w" d="M110,500 Q112,478 178,478 Q245,480 246,500 L246,602 Q180,640 115,606 Z"/>
<path class="p" d="M110,500 Q115,522 178,522 Q240,520 246,500"/>
<ellipse class="k" cx="180" cy="494" rx="32" ry="8"/>
<!-- flange -->
<path class="w" d="M112,602 L85,608 Q52,612 55,632 Q55,655 100,665 L355,688 Q388,688 396,665 Q400,645 370,635 L300,620 L246,606 Q180,640 112,602 Z"/>
<path class="p" d="M58,640 Q75,668 110,670"/>
<path class="p" d="M246,606 Q260,625 300,632 L350,645"/>
<path class="k" d="M320,635 L350,640 L352,655 L322,652 Z"/>
<!-- tube left bend -->
<path class="p" d="M108,668 L115,760 Q140,900 250,940 L300,945"/>
<path class="p" d="M232,682 L238,750 Q255,822 312,828"/>
<!-- dash-dot 2 -->
<path class="p" d="M330,665 L329,790 M328,810 L328,835 M327,855 L325,985"/>
<!-- bolt16 -->
<path class="w" d="M300,992 L350,992 L350,1078 L300,1078 Z"/>
<path class="p" d="M300,1012 L350,1012 M300,1032 L350,1032 M300,1052 L350,1052"/>
<path class="w" d="M270,1095 Q272,1078 325,1078 Q380,1080 382,1096 L380,1128 Q325,1150 272,1128 Z"/>
<path class="p" d="M270,1096 Q275,1112 325,1113 Q378,1112 382,1096"/>
<path class="p" d="M300,1114 L300,1135 M350,1114 L350,1135"/>
</g>
<g id="pickup-tube" transform="translate(430,350) scale(0.25)">
<path class="p" d="M280,718 L420,695 L730,690 Q800,700 815,790 L820,835"/>
<path class="p" d="M276,660 L420,635 L740,628 Q850,640 873,790 L876,835"/>
<path class="p" d="M820,835 Q848,845 876,835"/>
<path class="k" d="M578,626 L586,630 L580,634 Z"/>
</g>

<g id="strainer" transform="translate(590,490) scale(0.1)">
<path class="p" d="M435,685 Q510,705 585,685"/>
<path class="p" d="M435,685 L250,755 Q190,785 185,820 Q200,880 330,915 Q500,950 660,920 Q780,890 788,830 Q785,800 755,785 L585,685"/>
<path class="p" d="M232,770 Q205,830 330,872 Q500,912 670,882 Q775,850 762,795"/>
</g>

<!-- 50_adapter.svg -->
<g id="adapter-body" transform="translate(40,440) scale(0.25)">
<!-- upper cylinder (5) -->
<path class="p" d="M750,190 L630,190 Q590,195 585,240 L585,290 L600,400 L612,560 L615,602"/>
<path class="p" d="M596,283 L598,249 Q602,206 646,194"/>
<path class="p" d="M590,285 L700,292"/>
<path class="p" d="M590,300 L690,307"/>
<path class="p" d="M595,340 L680,347"/>
<path class="p" d="M600,385 L662,390"/>
<path class="p" d="M612,560 L720,582"/>
<path class="p" d="M614,580 L690,594"/>
<path class="p" d="M615,602 L645,606"/>
</g>
<g id="adapter-flange" transform="translate(190,450) scale(0.12)">
<path class="w" d="M600,75 Q690,70 735,130 Q765,200 745,300 L705,370 L680,430 Q670,520 700,590 Q705,660 760,720 Q840,760 870,830 Q890,920 850,990 Q800,1045 700,1040 L560,1010 L440,980 L340,920 L200,800 Q130,740 135,660 L160,610 L370,270 L530,100 Q560,75 600,75 Z"/>
<path class="p" d="M615,92 Q565,95 545,122 L395,292 L205,602 Q170,660 195,730 Q215,780 350,895 L450,962 L560,1010"/>
<!-- bolt holes -->
<ellipse class="p" cx="640" cy="235" rx="42" ry="56" transform="rotate(-15 640 235)"/>
<path class="p" d="M628,195 L630,268 M632,215 L672,218"/>
<ellipse class="p" cx="298" cy="700" rx="42" ry="56" transform="rotate(-15 298 700)"/>
<path class="p" d="M286,660 L288,735 M290,682 L330,685"/>
<ellipse class="p" cx="765" cy="895" rx="42" ry="56" transform="rotate(-15 765 895)"/>
<path class="p" d="M753,855 L755,930 M757,877 L797,880"/>
<!-- figure-8 gasket -->
<path class="p" style="stroke-width:3.4" d="M480,328 Q600,338 612,470 Q614,560 592,610 Q662,700 652,822 Q622,945 510,948 Q398,932 393,800 Q393,700 420,650 Q348,580 353,480 Q368,338 480,328 Z"/>
<path class="p" style="stroke-width:1.5" d="M484,362 Q572,370 580,474 Q580,555 556,606 Q626,708 618,814 Q594,914 514,916 Q428,904 425,800 Q427,710 456,646 Q384,576 387,484 Q398,372 484,362 Z"/>
<circle class="p" style="stroke-width:1.8" cx="488" cy="494" r="90"/>
<circle class="p" cx="490" cy="496" r="68"/>
<circle class="p" style="stroke-width:1.8" cx="524" cy="790" r="90"/>
<circle class="p" cx="526" cy="792" r="66"/>
<!-- stub -->
<path class="p" style="stroke-width:3.2" d="M598,600 L700,575"/>
<path class="p" d="M690,560 Q712,575 705,598"/>
</g>

<g id="adapter-dome" transform="translate(140,540) scale(0.16)">
<path class="p" d="M140,582 L135,470 Q140,425 200,395 L500,275 L540,298 L572,350 L603,440 L750,370 L775,245"/>
<path class="p" d="M152,470 Q300,418 572,365"/>
<path class="p" d="M568,160 L572,300 L582,352"/>
<path class="p" d="M605,175 L601,440"/>
<path class="p" d="M765,215 L775,245 L800,272 L832,492"/>
<!-- rings -->
<path class="p" d="M140,580 Q250,602 480,595 Q700,565 830,500"/>
<path class="p" style="stroke-width:2.4" d="M125,598 Q250,628 480,618 Q700,588 852,520"/>
<path class="p" style="stroke-width:2.4" d="M130,625 Q250,648 480,640 Q700,610 860,540"/>
<path class="p" d="M142,650 Q250,670 480,662 Q700,632 860,560"/>
<path class="p" d="M140,580 Q118,590 125,600 Q120,625 142,650"/>
<path class="p" d="M830,500 L858,528 L860,560"/>
<!-- stub -->
<path class="p" d="M415,672 L425,735 Q500,775 590,740 L605,662"/>
</g>

<!-- 60_valve.svg -->
<g id="valve" transform="translate(230,440) scale(0.25)">
<path class="w" d="M455,168 Q458,138 512,136 Q570,138 572,168 L572,380 Q570,410 514,412 Q458,410 455,380 Z"/>
<ellipse class="p" cx="514" cy="382" rx="58" ry="29"/>
<ellipse class="p" cx="514" cy="384" rx="42" ry="19"/>
<path class="p" d="M456,200 Q480,222 515,205 Q545,190 571,205"/>
<path class="p" d="M456,190 Q490,175 520,195 Q550,215 571,195"/>
<ellipse class="p" cx="510" cy="268" rx="12" ry="10"/>
<path class="p" style="stroke-width:3.9" d="M470.0,456.0 Q515.0,468.0 551.0,450.0"/>
<path class="p" style="stroke:#fff;stroke-width:1.1" d="M470.0,456.0 Q515.0,468.0 551.0,450.0"/>
<path class="p" style="stroke-width:3.9" d="M470.0,479.2 Q515.0,491.2 551.0,473.2"/>
<path class="p" style="stroke:#fff;stroke-width:1.1" d="M470.0,479.2 Q515.0,491.2 551.0,473.2"/>
<path class="p" style="stroke-width:3.9" d="M470.0,502.4 Q515.0,514.4 551.0,496.4"/>
<path class="p" style="stroke:#fff;stroke-width:1.1" d="M470.0,502.4 Q515.0,514.4 551.0,496.4"/>
<path class="p" style="stroke-width:3.9" d="M470.0,525.6 Q515.0,537.6 551.0,519.6"/>
<path class="p" style="stroke:#fff;stroke-width:1.1" d="M470.0,525.6 Q515.0,537.6 551.0,519.6"/>
<path class="p" style="stroke-width:3.9" d="M470.0,548.8 Q515.0,560.8 551.0,542.8"/>
<path class="p" style="stroke:#fff;stroke-width:1.1" d="M470.0,548.8 Q515.0,560.8 551.0,542.8"/>
<path class="p" style="stroke-width:3.9" d="M470.0,572.0 Q515.0,584.0 551.0,566.0"/>
<path class="p" style="stroke:#fff;stroke-width:1.1" d="M470.0,572.0 Q515.0,584.0 551.0,566.0"/>
<path class="p" style="stroke-width:3.9" d="M470.0,595.2 Q515.0,607.2 551.0,589.2"/>
<path class="p" style="stroke:#fff;stroke-width:1.1" d="M470.0,595.2 Q515.0,607.2 551.0,589.2"/>
<path class="p" style="stroke-width:3.9" d="M470.0,618.4 Q515.0,630.4 551.0,612.4"/>
<path class="p" style="stroke:#fff;stroke-width:1.1" d="M470.0,618.4 Q515.0,630.4 551.0,612.4"/>
<path class="p" style="stroke-width:3.9" d="M470.0,641.6 Q515.0,653.6 551.0,635.6"/>
<path class="p" style="stroke:#fff;stroke-width:1.1" d="M470.0,641.6 Q515.0,653.6 551.0,635.6"/>
<path class="p" style="stroke-width:3.9" d="M470.0,664.8 Q515.0,676.8 551.0,658.8"/>
<path class="p" style="stroke:#fff;stroke-width:1.1" d="M470.0,664.8 Q515.0,676.8 551.0,658.8"/>
<path class="p" style="stroke-width:3.9" d="M470.0,688.0 Q515.0,700.0 551.0,682.0"/>
<path class="p" style="stroke:#fff;stroke-width:1.1" d="M470.0,688.0 Q515.0,700.0 551.0,682.0"/>
<path class="p" style="stroke-width:3.9" d="M470.0,711.2 Q515.0,723.2 551.0,705.2"/>
<path class="p" style="stroke:#fff;stroke-width:1.1" d="M470.0,711.2 Q515.0,723.2 551.0,705.2"/>
<path class="p" style="stroke-width:3.9" d="M470.0,734.4 Q515.0,746.4 551.0,728.4"/>
<path class="p" style="stroke:#fff;stroke-width:1.1" d="M470.0,734.4 Q515.0,746.4 551.0,728.4"/>
<path class="p" style="stroke-width:3.9" d="M470.0,757.6 Q515.0,769.6 551.0,751.6"/>
<path class="p" style="stroke:#fff;stroke-width:1.1" d="M470.0,757.6 Q515.0,769.6 551.0,751.6"/>
<path class="p" style="stroke-width:3.9" d="M470.0,780.8 Q515.0,792.8 551.0,774.8"/>
<path class="p" style="stroke:#fff;stroke-width:1.1" d="M470.0,780.8 Q515.0,792.8 551.0,774.8"/>
<path class="p" style="stroke-width:3.9" d="M470.0,804.0 Q515.0,816.0 551.0,798.0"/>
<path class="p" style="stroke:#fff;stroke-width:1.1" d="M470.0,804.0 Q515.0,816.0 551.0,798.0"/>
<path class="p" d="M468,452 Q468,432 495,430 L497,446"/>
<ellipse class="w" cx="510" cy="806" rx="44" ry="22"/>
<ellipse class="p" cx="510" cy="806" rx="22" ry="10"/>
<path class="p" d="M512,816 L514,830"/>
<path class="w" d="M457,895 Q460,868 515,866 Q572,868 575,895 L575,925 Q570,955 515,957 Q460,955 457,925 Z"/>
<path class="p" d="M457,895 Q462,922 515,924 Q570,922 575,895"/>
</g>
<!-- 70_cooler.svg -->
<g id="cooler" transform="translate(150,690) scale(0.17)">
<!-- body -->
<path class="p" d="M60,285 L70,450 Q85,520 160,550 L330,590 L420,605 L500,602 L552,585"/>
<path class="p" d="M690,530 L782,488"/>
<path class="p" d="M815,290 L800,352"/>
<!-- top plate -->
<path class="w" d="M55,245 Q60,180 130,150 Q250,95 420,92 Q580,95 690,140 L830,235 L815,278 L530,402 L440,422 L380,422 L160,332 Q70,300 55,245 Z"/>
<path class="p" d="M75,245 Q85,190 150,162 Q260,115 420,110 Q570,113 680,155 L800,240 L525,385 L440,405 L385,405 L170,315 Q90,290 75,245 Z"/>
<path class="p" d="M55,245 L58,285 Q70,318 160,352 L380,442 L440,442 L530,422 L812,296 L815,278"/>
<path class="p" d="M160,342 L380,432 L440,432 L530,412"/>
<ellipse class="p" cx="395" cy="238" rx="256" ry="112"/>
<ellipse class="p" cx="395" cy="238" rx="236" ry="100"/>
<ellipse class="p" cx="408" cy="235" rx="193" ry="85"/>
<ellipse class="p" cx="408" cy="235" rx="173" ry="73"/>
<ellipse class="p" cx="415" cy="240" rx="76" ry="36"/>
<ellipse class="p" cx="418" cy="240" rx="55" ry="24"/>
<ellipse class="p" cx="300" cy="205" rx="45" ry="25"/>
<ellipse class="p" cx="525" cy="200" rx="14" ry="8"/>
<ellipse class="p" cx="310" cy="283" rx="14" ry="8"/>
<ellipse class="p" cx="425" cy="290" rx="14" ry="8"/>
<ellipse class="p" cx="730" cy="230" rx="14" ry="8"/>
<ellipse class="p" cx="125" cy="215" rx="14" ry="8"/>
<ellipse class="p" cx="165" cy="315" rx="14" ry="8"/>
<ellipse class="p" cx="390" cy="370" rx="14" ry="8"/>
<!-- right hose -->
<path class="w" d="M826,105 Q830,78 890,76 Q950,78 956,105 L958,330 Q960,440 870,465 Q800,472 772,442 Q750,420 758,395 Q765,360 800,352 Q830,350 835,320 Z"/>
<ellipse class="p" cx="891" cy="105" rx="65" ry="29"/>
<ellipse class="p" cx="891" cy="107" rx="50" ry="19"/>
<path class="p" d="M832,300 Q890,332 957,300"/>
<path class="p" d="M834,316 Q890,348 958,318"/>
<path class="p" d="M805,352 Q790,400 812,462"/>
<!-- lower hose -->
<path class="w" d="M590,440 Q520,450 505,510 Q510,560 552,582 L575,600 L540,680 L475,850 L485,872 L590,902 L602,880 L655,720 L680,640 L685,560 Q660,480 590,440 Z"/>
<path class="p" d="M602,462 Q545,470 530,520 Q535,552 562,572"/>
<path class="p" d="M545,670 L662,705"/>
<path class="p" d="M538,690 L656,725"/>
<path class="p" d="M480,840 L597,872"/>
</g>

<!-- 80_pan.svg -->
<g id="pan" transform="translate(390,740) scale(0.25)">
<path class="p" d="M135,590 L140,690 Q150,730 200,770 L360,880 L480,950 L540,965 L700,940 L735,930 L760,960 L830,980 L1000,945 L1290,875 L1320,850 L1345,800 L1370,785 L1680,715 Q1750,690 1765,600 L1760,540"/>
<path class="p" d="M760,936 L800,925 L1000,870 L1370,785"/>
<path class="p" d="M360,874 L368,884"/>
<g transform="translate(0,11)"><path class="p" d="M57.4,507.7 L100.8,556.1 L105.7,573.7 L139.1,579.4 L249.5,664.7 L251.7,668.0 L255.5,683.0 L274.9,683.0 L284.9,684.6 L294.0,683.8 L331.5,693.2 L546.3,773.0 L578.7,773.0 L677.9,738.3 L682.5,738.3 L695.4,743.2 L706.8,742.8 L714.5,739.9 L721.9,734.6 L737.6,733.2 L768.1,713.3 L898.6,683.1 L943.2,695.8 L954.6,696.2 L962.6,693.8 L970.8,688.6 L1128.6,648.1 L1132.6,648.5 L1160.9,660.8 L1205.9,653.6 L1214.4,640.8 L1217.8,638.4 L1348.5,603.2 L1352.5,603.4 L1380.9,614.8 L1425.7,608.5 L1434.2,594.2 L1437.3,591.6 L1548.6,563.2 L1590.8,574.9 L1617.5,573.1 L1637.9,558.3 L1773.8,521.8 L1789.9,524.6 L1796.8,523.8 L1806.9,520.2 L1827.5,522.6 L1843.5,506.5 L1848.0,482.8 L1846.1,476.5 L1841.4,471.4 L1835.7,468.4 L1827.1,466.2 L1824.4,464.2 L1785.2,405.4 L1726.2,375.8 L1657.3,326.7 L1499.8,301.7 L1496.5,299.3 L1495.2,296.2 L1498.0,285.2 L1496.1,278.5 L1489.5,272.1 L1479.6,268.8 L1472.6,268.5 L1464.3,270.4 L1458.6,273.4 L1453.0,278.7 L1449.8,279.7 L1445.4,278.5 L1436.9,271.6 L1399.9,265.1 L1319.9,277.0 L1298.9,269.1 L1292.5,268.7 L1286.1,263.2 L1280.7,260.4 L1269.9,258.4 L1261.1,259.7 L1253.6,263.4 L1248.9,268.5 L1245.4,277.0 L1232.7,286.5 L1100.7,319.0 L1074.0,311.2 L1067.6,304.4 L1060.7,300.4 L1047.6,298.5 L1041.1,299.7 L1033.9,303.2 L1027.0,310.6 L1022.8,312.1 L1004.7,330.2 L1000.6,332.0 L872.2,346.8 L868.2,345.6 L862.6,339.4 L856.0,335.5 L849.4,333.7 L840.6,333.7 L828.6,338.4 L819.9,349.4 L801.6,356.8 L690.3,367.0 L669.3,357.4 L662.9,349.6 L657.6,346.2 L649.4,343.7 L640.6,343.7 L628.6,348.4 L621.3,357.8 L602.0,371.7 L490.6,387.0 L486.7,386.2 L469.0,375.6 L464.0,368.7 L457.9,364.3 L451.5,362.1 L442.6,361.5 L434.3,363.4 L428.6,366.4 L424.6,370.4 L420.3,378.5 L402.5,391.5 L331.3,406.9 L170.1,425.9 L166.7,425.1 L159.7,419.3 L153.9,416.7 L147.1,415.5 L138.5,416.1 L128.9,420.2 L124.8,424.0 L120.9,430.4 L110.1,435.4 L100.8,453.9 L80.4,473.5 L67.0,489.1 L59.3,501.5 Z"/></g>
<path class="w" d="M57.4,507.7 L100.8,556.1 L105.7,573.7 L139.1,579.4 L249.5,664.7 L251.7,668.0 L255.5,683.0 L274.9,683.0 L284.9,684.6 L294.0,683.8 L331.5,693.2 L546.3,773.0 L578.7,773.0 L677.9,738.3 L682.5,738.3 L695.4,743.2 L706.8,742.8 L714.5,739.9 L721.9,734.6 L737.6,733.2 L768.1,713.3 L898.6,683.1 L943.2,695.8 L954.6,696.2 L962.6,693.8 L970.8,688.6 L1128.6,648.1 L1132.6,648.5 L1160.9,660.8 L1205.9,653.6 L1214.4,640.8 L1217.8,638.4 L1348.5,603.2 L1352.5,603.4 L1380.9,614.8 L1425.7,608.5 L1434.2,594.2 L1437.3,591.6 L1548.6,563.2 L1590.8,574.9 L1617.5,573.1 L1637.9,558.3 L1773.8,521.8 L1789.9,524.6 L1796.8,523.8 L1806.9,520.2 L1827.5,522.6 L1843.5,506.5 L1848.0,482.8 L1846.1,476.5 L1841.4,471.4 L1835.7,468.4 L1827.1,466.2 L1824.4,464.2 L1785.2,405.4 L1726.2,375.8 L1657.3,326.7 L1499.8,301.7 L1496.5,299.3 L1495.2,296.2 L1498.0,285.2 L1496.1,278.5 L1489.5,272.1 L1479.6,268.8 L1472.6,268.5 L1464.3,270.4 L1458.6,273.4 L1453.0,278.7 L1449.8,279.7 L1445.4,278.5 L1436.9,271.6 L1399.9,265.1 L1319.9,277.0 L1298.9,269.1 L1292.5,268.7 L1286.1,263.2 L1280.7,260.4 L1269.9,258.4 L1261.1,259.7 L1253.6,263.4 L1248.9,268.5 L1245.4,277.0 L1232.7,286.5 L1100.7,319.0 L1074.0,311.2 L1067.6,304.4 L1060.7,300.4 L1047.6,298.5 L1041.1,299.7 L1033.9,303.2 L1027.0,310.6 L1022.8,312.1 L1004.7,330.2 L1000.6,332.0 L872.2,346.8 L868.2,345.6 L862.6,339.4 L856.0,335.5 L849.4,333.7 L840.6,333.7 L828.6,338.4 L819.9,349.4 L801.6,356.8 L690.3,367.0 L669.3,357.4 L662.9,349.6 L657.6,346.2 L649.4,343.7 L640.6,343.7 L628.6,348.4 L621.3,357.8 L602.0,371.7 L490.6,387.0 L486.7,386.2 L469.0,375.6 L464.0,368.7 L457.9,364.3 L451.5,362.1 L442.6,361.5 L434.3,363.4 L428.6,366.4 L424.6,370.4 L420.3,378.5 L402.5,391.5 L331.3,406.9 L170.1,425.9 L166.7,425.1 L159.7,419.3 L153.9,416.7 L147.1,415.5 L138.5,416.1 L128.9,420.2 L124.8,424.0 L120.9,430.4 L110.1,435.4 L100.8,453.9 L80.4,473.5 L67.0,489.1 L59.3,501.5 Z"/>
<path class="w" d="M134.9,494.4 L276.8,641.1 L344.2,674.8 L541.9,734.1 L599.2,738.9 L997.8,649.2 L1756.3,493.6 L1682.3,427.9 L1594.7,340.3 L1476.9,320.5 L1435.9,292.6 L1400.2,288.1 L1001.3,355.9 L341.4,425.9 L145.1,460.3 L138.7,467.1 L134.3,475.7 L133.2,485.1 Z"/>
<path class="p" d="M1480,335 L1600,395 L1605,430 L1660,462 L1690,425 L1735,410 L1720,390 L1600,330"/>
<path class="p" d="M1690,425 L1775,498"/>
<ellipse class="k" cx="445" cy="378" rx="11" ry="5.5"/><ellipse class="k" cx="645" cy="360" rx="11" ry="5.5"/><ellipse class="k" cx="845" cy="350" rx="11" ry="5.5"/><ellipse class="k" cx="1050" cy="315" rx="11" ry="5.5"/><ellipse class="k" cx="1270" cy="275" rx="11" ry="5.5"/><ellipse class="k" cx="1475" cy="285" rx="11" ry="5.5"/><ellipse class="k" cx="145" cy="432" rx="11" ry="5.5"/><ellipse class="k" cx="130" cy="553" rx="11" ry="5.5"/><ellipse class="k" cx="285" cy="668" rx="11" ry="5.5"/><ellipse class="k" cx="568" cy="752" rx="11" ry="5.5"/><ellipse class="k" cx="700" cy="727" rx="11" ry="5.5"/><ellipse class="k" cx="950" cy="680" rx="11" ry="5.5"/><ellipse class="k" cx="1170" cy="635" rx="11" ry="5.5"/><ellipse class="k" cx="1390" cy="590" rx="11" ry="5.5"/><ellipse class="k" cx="1600" cy="548" rx="11" ry="5.5"/><ellipse class="k" cx="1790" cy="508" rx="11" ry="5.5"/><ellipse class="k" cx="1825" cy="483" rx="11" ry="5.5"/>
<clipPath id="gclip"><path clip-rule="evenodd" d="M-200,-200 H2200 V1400 H-200 Z M115.4,219.0 L116.9,231.1 L181.5,293.8 L264.6,381.6 L343.0,396.5 L502.5,466.2 L560.3,475.9 L698.5,456.1 L998.3,391.2 L1655.8,270.2 L1784.4,236.7 L1786.7,233.7 L1785.7,218.5 L1758.2,191.2 L1527.0,75.1 L1478.7,73.0 L1001.0,141.9 L480.7,159.0 L133.5,193.7 L128.1,196.6 L120.3,204.2 L117.7,208.9 Z"/></clipPath>
<g clip-path="url(#gclip)"><g transform="translate(0,9)"><path class="p" d="M58.3,237.4 L79.5,262.9 L97.4,267.4 L100.6,269.3 L102.6,272.6 L106.7,288.8 L115.7,292.1 L123.9,301.8 L135.4,306.2 L142.4,306.5 L152.8,304.4 L165.1,308.9 L265.0,403.7 L269.6,415.6 L277.1,421.7 L285.6,424.3 L296.5,423.9 L304.7,420.7 L313.6,413.1 L322.4,412.4 L482.8,492.4 L540.0,506.7 L559.9,502.0 L571.0,503.4 L580.6,506.3 L599.5,506.9 L698.5,482.2 L732.2,486.5 L744.7,474.1 L747.9,472.3 L933.6,431.4 L938.4,432.0 L945.3,437.7 L951.3,440.3 L959.9,441.6 L966.8,440.8 L972.9,438.7 L979.0,434.3 L981.9,430.0 L984.0,422.5 L987.8,419.5 L1148.3,382.2 L1152.4,382.4 L1188.5,393.9 L1201.8,393.8 L1209.7,390.7 L1218.8,383.2 L1222.9,371.3 L1227.0,367.6 L1368.5,332.2 L1373.1,332.6 L1396.2,343.7 L1400.5,343.3 L1412.6,346.5 L1421.8,345.8 L1429.5,342.9 L1434.2,339.1 L1443.1,321.0 L1447.2,317.5 L1563.5,292.2 L1568.7,292.9 L1591.9,306.8 L1602.1,306.2 L1611.3,310.3 L1622.1,311.5 L1630.7,309.6 L1640.5,303.3 L1646.4,302.3 L1654.7,294.0 L1658.2,292.2 L1788.5,270.1 L1794.6,270.9 L1802.1,275.7 L1808.2,277.8 L1821.8,277.8 L1827.9,275.7 L1836.3,269.3 L1848.0,264.3 L1851.3,247.6 L1834.0,230.3 L1832.0,224.4 L1834.3,219.4 L1853.0,202.4 L1851.0,195.0 L1833.0,183.0 L1515.3,43.2 L1504.5,32.1 L1496.8,29.2 L1489.9,28.4 L1481.1,29.7 L1473.6,33.4 L1468.7,38.9 L1465.7,47.2 L1461.8,49.8 L1321.4,77.9 L1317.2,77.5 L1300.4,70.6 L1294.2,60.9 L1287.6,56.2 L1279.4,53.7 L1270.6,53.7 L1262.4,56.2 L1256.0,60.7 L1252.5,66.6 L1250.9,76.9 L1241.3,82.9 L1105.3,108.0 L1083.1,99.8 L1076.4,93.4 L1071.0,90.5 L1064.4,88.7 L1055.6,88.7 L1047.1,91.3 L1037.3,99.3 L1032.0,100.0 L1002.0,115.7 L860.1,131.9 L854.3,129.8 L850.2,122.0 L844.7,117.3 L838.7,114.7 L829.9,113.4 L821.3,114.7 L813.9,118.2 L808.9,123.5 L805.9,130.3 L801.4,132.9 L669.1,135.9 L663.9,132.6 L662.1,123.4 L657.6,117.4 L648.9,112.7 L639.9,111.4 L631.1,112.7 L623.6,116.4 L618.7,121.9 L615.4,132.1 L606.2,135.9 L469.6,138.0 L460.0,135.0 L456.3,123.9 L451.1,118.2 L441.8,114.2 L432.9,113.5 L424.0,115.5 L417.1,119.6 L412.5,126.6 L411.3,137.6 L402.1,142.7 L275.1,157.4 L271.8,156.6 L269.2,154.4 L266.3,143.9 L261.1,138.2 L251.5,134.1 L240.4,133.8 L232.1,136.3 L225.8,140.9 L222.9,145.4 L221.8,153.9 L219.6,157.2 L206.2,162.9 L153.1,169.8 L148.7,167.9 L141.4,158.4 L133.9,154.7 L122.6,153.5 L110.5,157.1 L103.7,163.9 L100.8,176.5 L78.7,199.1 L66.9,215.3 L60.2,229.0 Z"/></g></g>
<path class="w" fill-rule="evenodd" d="M58.4,237.6 L79.5,262.9 L97.4,267.4 L100.6,269.3 L102.6,272.6 L106.7,288.8 L115.7,292.1 L123.9,301.8 L135.4,306.2 L142.4,306.5 L152.8,304.4 L165.1,308.9 L265.0,403.7 L269.6,415.6 L277.1,421.7 L285.6,424.3 L296.5,423.9 L304.7,420.7 L313.6,413.1 L322.4,412.4 L482.8,492.4 L540.0,506.7 L559.9,502.0 L571.0,503.4 L580.6,506.3 L599.5,506.9 L698.5,482.2 L732.2,486.5 L744.7,474.1 L747.9,472.3 L933.6,431.4 L938.4,432.0 L945.3,437.7 L951.3,440.3 L959.9,441.6 L966.8,440.8 L972.9,438.7 L979.0,434.3 L981.9,430.0 L984.0,422.5 L987.8,419.5 L1148.3,382.2 L1152.4,382.4 L1188.5,393.9 L1201.8,393.8 L1209.7,390.7 L1218.8,383.2 L1222.9,371.3 L1227.0,367.6 L1368.5,332.2 L1373.1,332.6 L1396.2,343.7 L1400.5,343.3 L1412.6,346.5 L1421.8,345.8 L1429.5,342.9 L1434.2,339.1 L1443.1,321.0 L1447.2,317.5 L1563.5,292.2 L1568.7,292.9 L1591.9,306.8 L1602.1,306.2 L1611.3,310.3 L1622.1,311.5 L1630.7,309.6 L1640.5,303.3 L1646.4,302.3 L1654.7,294.0 L1658.2,292.2 L1788.5,270.1 L1794.6,270.9 L1802.1,275.7 L1808.2,277.8 L1821.8,277.8 L1827.9,275.7 L1836.3,269.3 L1848.0,264.3 L1851.3,247.6 L1834.0,230.3 L1832.0,224.4 L1834.3,219.4 L1853.0,202.4 L1851.0,195.0 L1833.0,183.0 L1515.3,43.2 L1504.5,32.1 L1496.8,29.2 L1489.9,28.4 L1481.1,29.7 L1473.6,33.4 L1468.7,38.9 L1465.7,47.2 L1461.8,49.8 L1321.4,77.9 L1317.2,77.5 L1300.4,70.6 L1294.2,60.9 L1287.6,56.2 L1279.4,53.7 L1270.6,53.7 L1262.4,56.2 L1256.0,60.7 L1252.5,66.6 L1250.9,76.9 L1241.3,82.9 L1105.3,108.0 L1083.1,99.8 L1076.4,93.4 L1071.0,90.5 L1064.4,88.7 L1055.6,88.7 L1047.1,91.3 L1037.3,99.3 L1032.0,100.0 L1002.0,115.7 L860.1,131.9 L854.3,129.8 L850.2,122.0 L844.7,117.3 L838.7,114.7 L829.9,113.4 L821.3,114.7 L813.9,118.2 L808.9,123.5 L805.9,130.3 L801.4,132.9 L669.1,135.9 L663.9,132.6 L662.1,123.4 L657.6,117.4 L648.9,112.7 L639.9,111.4 L631.1,112.7 L623.6,116.4 L618.7,121.9 L615.4,132.1 L606.2,135.9 L469.6,138.0 L460.0,135.0 L456.3,123.9 L451.1,118.2 L441.8,114.2 L432.9,113.5 L424.0,115.5 L417.1,119.6 L412.5,126.6 L411.3,137.6 L402.1,142.7 L275.1,157.4 L271.8,156.6 L269.2,154.4 L266.3,143.9 L261.1,138.2 L251.5,134.1 L240.4,133.8 L232.1,136.3 L225.8,140.9 L222.9,145.4 L221.8,153.9 L219.6,157.2 L206.2,162.9 L153.1,169.8 L148.7,167.9 L141.4,158.4 L133.9,154.7 L122.6,153.5 L110.5,157.1 L103.7,163.9 L100.8,176.5 L78.7,199.1 L66.9,215.3 L60.2,229.0 Z M116.1,213.9 L117.9,208.4 L123.5,200.4 L133.5,193.7 L480.5,159.0 L1001.1,141.9 L1478.7,73.0 L1527.0,75.1 L1758.2,191.2 L1785.7,218.5 L1786.7,233.7 L1784.4,236.7 L1655.8,270.2 L998.3,391.2 L698.5,456.1 L560.0,475.9 L502.5,466.2 L343.0,396.5 L264.6,381.6 L181.5,293.8 L116.9,231.1 L115.6,225.3 Z"/>
<ellipse class="k" cx="125" cy="170" rx="11" ry="5.5"/><ellipse class="k" cx="245" cy="150" rx="11" ry="5.5"/><ellipse class="k" cx="435" cy="130" rx="11" ry="5.5"/><ellipse class="k" cx="640" cy="128" rx="11" ry="5.5"/><ellipse class="k" cx="830" cy="130" rx="11" ry="5.5"/><ellipse class="k" cx="1060" cy="105" rx="11" ry="5.5"/><ellipse class="k" cx="1275" cy="70" rx="11" ry="5.5"/><ellipse class="k" cx="140" cy="290" rx="11" ry="5.5"/><ellipse class="k" cx="290" cy="408" rx="11" ry="5.5"/><ellipse class="k" cx="585" cy="490" rx="11" ry="5.5"/><ellipse class="k" cx="715" cy="468" rx="11" ry="5.5"/><ellipse class="k" cx="960" cy="425" rx="11" ry="5.5"/><ellipse class="k" cx="1195" cy="378" rx="11" ry="5.5"/><ellipse class="k" cx="1415" cy="330" rx="11" ry="5.5"/><ellipse class="k" cx="1620" cy="295" rx="11" ry="5.5"/><ellipse class="k" cx="1490" cy="45" rx="11" ry="5.5"/><ellipse class="k" cx="1800" cy="193" rx="11" ry="5.5"/><ellipse class="k" cx="1815" cy="262" rx="11" ry="5.5"/>
<rect class="k" x="421" y="122" width="27" height="22"/>
</g>
<g id="plug10" transform="translate(495,770) scale(0.06)">
<ellipse class="w" cx="425" cy="435" rx="115" ry="150" transform="rotate(35 425 435)"/>
<ellipse class="w" cx="455" cy="445" rx="105" ry="135" transform="rotate(35 455 445)"/>
<circle class="w" cx="485" cy="470" r="48"/>
<circle class="w" cx="520" cy="500" r="45"/>
<ellipse class="w" cx="572" cy="535" rx="52" ry="46"/>
</g>
<!-- 90_filter.svg -->
<g id="filter" transform="translate(200,1000) scale(0.2)">
<path class="p" d="M245,55 L345,275"/>
<path class="w" d="M178,435 Q185,385 260,330 Q350,275 450,250 Q530,238 570,262 L585,285 L765,645 L770,680 Q740,790 560,855 Q420,895 380,855 L360,820 L185,460 Z"/>
<path class="p" d="M186,452 Q195,400 268,345 Q355,290 452,264 Q530,252 575,272"/>
<ellipse class="p" cx="565" cy="750" rx="217" ry="100" transform="rotate(-22 565 750)"/>
</g>
<g id="nipple" transform="translate(210,960) scale(0.06)">
<path class="w" style="stroke-width:2.3" d="M240,330 Q330,190 530,200 L780,720 Q760,800 700,810 Q640,790 560,850 L480,840 Z"/>
<path class="p" style="stroke-width:2.2" d="M267,387 Q357,247 558,258"/>
<path class="p" style="stroke-width:2.2" d="M293,443 Q384,304 586,316"/>
<path class="p" style="stroke-width:2.2" d="M320,500 Q412,362 613,373"/>
<path class="p" style="stroke-width:2.2" d="M347,557 Q439,419 641,431"/>
<path class="p" style="stroke-width:2.2" d="M374,614 Q466,476 669,489"/>
<path class="p" style="stroke-width:2.2" d="M400,670 Q494,534 697,547"/>
<path class="p" style="stroke-width:2.2" d="M427,727 Q521,591 725,605"/>
<path class="p" style="stroke-width:2.2" d="M454,784 Q548,648 752,662"/>
<path class="p" style="stroke-width:2" d="M540,830 Q560,780 640,770 Q700,775 700,810"/>
</g>
<g id="drain" transform="translate(440,1005) scale(0.12)">
<path class="p" d="M150,200 L120,220 L105,260 L110,330 L140,380 L190,402"/>
<path class="p" d="M125,225 L122,300 L150,370"/>
<ellipse class="w" cx="245" cy="272" rx="100" ry="142" transform="rotate(-20 245 272)"/>
<ellipse class="w" cx="272" cy="275" rx="100" ry="140" transform="rotate(-20 272 275)"/>
<ellipse class="w" cx="250" cy="278" rx="32" ry="66" transform="rotate(-15 250 278)"/>
<ellipse class="w" cx="290" cy="266" rx="32" ry="63" transform="rotate(-15 290 266)"/>
<ellipse class="w" cx="330" cy="255" rx="32" ry="60" transform="rotate(-15 330 255)"/>
<path class="w" d="M345,196 L400,158 Q460,150 475,215 Q478,275 440,292 L365,314 Z"/>
<ellipse class="w" cx="420" cy="225" rx="55" ry="70" transform="rotate(-15 420 225)"/>
<ellipse class="w" cx="772" cy="230" rx="112" ry="152" transform="rotate(-15 772 230)"/>
<ellipse class="w" cx="805" cy="225" rx="108" ry="150" transform="rotate(-15 805 225)"/>
<ellipse class="p" cx="800" cy="225" rx="60" ry="95" transform="rotate(-15 800 225)"/>
<path class="p" d="M795,135 Q850,170 850,240 Q845,290 815,312"/>
<path class="p" d="M700,330 L735,368 M690,300 L690,322"/>
</g>
<g id="leaders">
<line class="ld" x1="137.5" y1="186" x2="189" y2="169"/>
<line class="ld" x1="515" y1="190.5" x2="501.25" y2="222.5"/>
<line class="ld" x1="530" y1="190.5" x2="536.25" y2="213.75"/>
<line class="ld" x1="622" y1="150" x2="622" y2="170"/>
<line class="ld" x1="805.5" y1="191.75" x2="785" y2="212"/>
<line class="ld" x1="850.5" y1="311.75" x2="808" y2="311.75"/>
<line class="ld" x1="826.25" y1="548.75" x2="817" y2="497"/>
<line class="ld" x1="544.5" y1="390" x2="503.75" y2="403.75"/>
<line class="ld" x1="632" y1="471.25" x2="611.25" y2="490.75"/>
<line class="ld" x1="530" y1="593.75" x2="512.5" y2="572.5"/>
<line class="ld" x1="180.5" y1="535.5" x2="202.5" y2="535.5"/>
<line class="ld" x1="100" y1="612.5" x2="160" y2="612"/>
<line class="ld" x1="203.75" y1="662.5" x2="208" y2="660"/>
<line class="ld" x1="144.5" y1="703.75" x2="170" y2="717.5"/>
<line class="ld" x1="298.75" y1="496.25" x2="278.75" y2="486.25"/>
<line class="ld" x1="410" y1="583" x2="386.25" y2="593"/>
<line class="ld" x1="302.5" y1="636.25" x2="277.5" y2="581.25"/>
<line class="ld" x1="113.75" y1="774.25" x2="146.25" y2="763"/>
<line class="ld" x1="377" y1="804.5" x2="399.5" y2="803.75"/>
<line class="ld" x1="494.5" y1="746.5" x2="507.5" y2="771"/>
<line class="ld" x1="548.8" y1="727.2" x2="528" y2="768"/>
<line class="ld" x1="419.4" y1="995" x2="455" y2="970"/>
<line class="ld" x1="129.5" y1="956" x2="197.5" y2="974.75"/>
<line class="ld" x1="161.5" y1="1075.5" x2="217.5" y2="1084"/>
<line class="ld" x1="498" y1="1077.4" x2="486.6" y2="1062"/>
<line class="ld" x1="521" y1="1077.4" x2="526.4" y2="1065"/>
</g>
<g id="labels">
<rect class="bx" x="97.95" y="175" width="37.6" height="37.6"/><text class="t" x="117" y="201.2">26</text>
<rect class="bx" x="701.2" y="80.6" width="37.6" height="37.6"/><text class="t" x="720.5" y="106.8">20</text>
<rect class="bx" x="605.45" y="111.7" width="37.6" height="37.6"/><text class="t" x="622.5" y="137.9" style="letter-spacing:-2.2px">18</text>
<rect class="bx" x="506.2" y="152.2" width="37.6" height="37.6"/><text class="t" x="523.5" y="178.4" style="letter-spacing:-2.2px">19</text>
<rect class="bx" x="807.2" y="153.5" width="37.6" height="37.6"/><text class="t" x="825" y="179.7" style="letter-spacing:-2.2px">12</text>
<rect class="bx" x="852.2" y="293.45" width="37.6" height="37.6"/><text class="t" x="869.5" y="319.65" style="letter-spacing:-2.2px">13</text>
<rect class="bx" x="546.2" y="362.2" width="37.6" height="37.6"/><text class="t" x="564" y="388.4" style="letter-spacing:-2.2px">17</text>
<rect class="bx" x="633.7" y="433.45" width="37.6" height="37.6"/><text class="t" x="651" y="459.65" style="letter-spacing:-2.2px">15</text>
<rect class="bx" x="405.95" y="477.95" width="37.6" height="37.6"/><text class="t" x="425" y="504.15">23</text>
<rect class="bx" x="300.45" y="490.45" width="37.6" height="37.6"/><text class="t" x="319" y="516.65">6</text>
<rect class="bx" x="142.2" y="518.7" width="37.6" height="37.6"/><text class="t" x="161" y="544.9">5</text>
<rect class="bx" x="809.95" y="550.45" width="37.6" height="37.6"/><text class="t" x="827" y="576.65" style="letter-spacing:-2.2px">14</text>
<rect class="bx" x="411.7" y="555.45" width="37.6" height="37.6"/><text class="t" x="430.5" y="581.65">22</text>
<rect class="bx" x="528.7" y="595.45" width="37.6" height="37.6"/><text class="t" x="546" y="621.65" style="letter-spacing:-2.2px">16</text>
<rect class="bx" x="61.2" y="594.2" width="37.6" height="37.6"/><text class="t" x="80" y="620.4">3</text>
<rect class="bx" x="411.7" y="619.2" width="37.6" height="37.6"/><text class="t" x="430.5" y="645.4">21</text>
<rect class="bx" x="292.95" y="637.95" width="37.6" height="37.6"/><text class="t" x="311.5" y="664.15">4</text>
<rect class="bx" x="165.95" y="663.7" width="37.6" height="37.6"/><text class="t" x="185" y="689.9">28</text>
<rect class="bx" x="105.45" y="672.95" width="37.6" height="37.6"/><text class="t" x="124" y="699.15">25</text>
<rect class="bx" x="764.9" y="686.5" width="37.6" height="37.6"/><text class="t" x="783.4" y="712.7">1</text>
<rect class="bx" x="541.7" y="688.9" width="37.6" height="37.6"/><text class="t" x="555.5" y="715.1" style="letter-spacing:-3.6px">11</text>
<rect class="bx" x="462.5" y="707.7" width="37.6" height="37.6"/><text class="t" x="479.6" y="733.9" style="letter-spacing:-2.2px">10</text>
<rect class="bx" x="74.7" y="762.95" width="37.6" height="37.6"/><text class="t" x="93" y="789.15">24</text>
<rect class="bx" x="337.95" y="788.7" width="37.6" height="37.6"/><text class="t" x="357" y="814.9">8</text>
<rect class="bx" x="90.45" y="931.45" width="37.6" height="37.6"/><text class="t" x="109" y="957.65">27</text>
<rect class="bx" x="379.7" y="991.1" width="37.6" height="37.6"/><text class="t" x="398.5" y="1017.3">9</text>
<rect class="bx" x="122.45" y="1054.45" width="37.6" height="37.6"/><text class="t" x="141.5" y="1080.65">2</text>
<rect class="bx" x="494.7" y="1079.1" width="37.6" height="37.6"/><text class="t" x="513.5" y="1105.3">7</text>
</g>
</svg>
</body></html>
